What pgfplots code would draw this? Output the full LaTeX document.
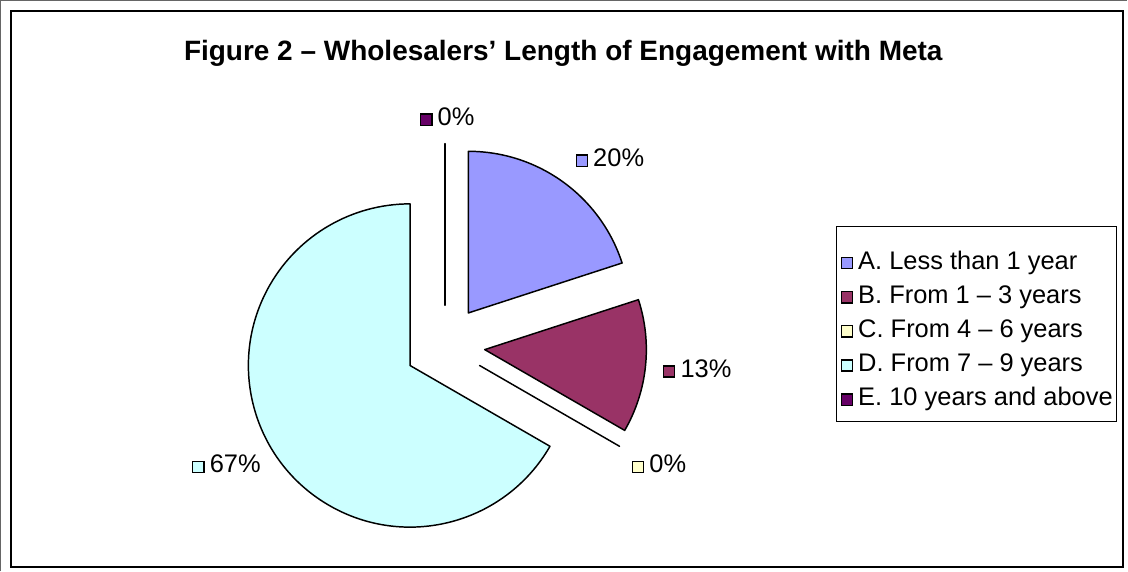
\documentclass[border=0pt]{standalone}
\usepackage{pgfplots}
\pgfplotsset{compat=1.18}
\usepackage{pgfplotstable}
\usepackage{fontspec}
\setmainfont{Liberation Sans}

\definecolor{sliceA}{HTML}{9999FF}
\definecolor{sliceB}{HTML}{993366}
\definecolor{sliceC}{HTML}{FFFFCC}
\definecolor{sliceD}{HTML}{CCFFFF}
\definecolor{sliceE}{HTML}{660066}

% shares in percent (3, 2, 0, 10, 0 of 15 wholesalers)
\pgfplotstableread{
id start share
A 0      20
B 20     13.333
C 33.333 0
D 33.333 66.667
E 100    0
}\piedata

% one exploded slice: start (%), share (%), colour
\newcommand\pieslice[3]{%
  \pgfmathsetmacro\sa{90-3.6*#1}%
  \pgfmathsetmacro\ea{90-3.6*(#1+#2)}%
  \pgfmathsetmacro\ma{(\sa+\ea)/2}%
  \pgfmathsetmacro\cx{448+40*cos(\ma)}%
  \pgfmathsetmacro\cy{225+40*sin(\ma)}%
  \edef\tmp{\noexpand\filldraw[fill=#3,draw=black,line width=1.1pt,line join=round]
    (axis cs:\cx,\cy) -- ++(\sa:120.75pt) arc[start angle=\sa,end angle=\ea,radius=120.75pt] -- cycle;}%
  \tmp}

\newcommand\sq[1]{\tikz[baseline=0pt]\filldraw[fill=#1,draw=black,line width=1pt] (0,0.3pt) rectangle (8.4pt,8.7pt);\hspace{3.8pt}}

\begin{document}
\begin{tikzpicture}
\begin{axis}[
    x=0.75pt, y=0.75pt,
    xmin=0, xmax=1128, ymin=0, ymax=571,
    hide axis, scale only axis, clip=false,
]
% frames
\draw[gray!80!black, line width=0.9pt] (axis cs:5.5,0) -- (axis cs:5.5,568.5) -- (axis cs:1128,568.5);
\draw[black, line width=1.6pt] (axis cs:16,558) rectangle (axis cs:1124,4);

% title
\node[font=\bfseries\fontsize{20.9}{24}\selectfont, anchor=base] at (axis cs:566,509)
  {Figure 2 – Wholesalers’ Length of Engagement with Meta};

% slices
\pgfplotstablegetelem{0}{start}\of\piedata \let\s\pgfplotsretval
\pgfplotstablegetelem{0}{share}\of\piedata \let\p\pgfplotsretval
\pieslice{\s}{\p}{sliceA}
\pgfplotstablegetelem{1}{start}\of\piedata \let\s\pgfplotsretval
\pgfplotstablegetelem{1}{share}\of\piedata \let\p\pgfplotsretval
\pieslice{\s}{\p}{sliceB}
\pgfplotstablegetelem{2}{start}\of\piedata \let\s\pgfplotsretval
\pgfplotstablegetelem{2}{share}\of\piedata \let\p\pgfplotsretval
\pieslice{\s}{\p}{sliceC}
\pgfplotstablegetelem{3}{start}\of\piedata \let\s\pgfplotsretval
\pgfplotstablegetelem{3}{share}\of\piedata \let\p\pgfplotsretval
\pieslice{\s}{\p}{sliceD}
\pgfplotstablegetelem{4}{start}\of\piedata \let\s\pgfplotsretval
\pgfplotstablegetelem{4}{share}\of\piedata \let\p\pgfplotsretval
\pieslice{\s}{\p}{sliceE}

% data labels
\begin{scope}[every node/.style={font=\fontsize{19}{22}\selectfont, anchor=base west, inner sep=0pt}]
\node at (axis cs:423,444) {\sq{sliceE}0\%};
\node at (axis cs:578,403) {\sq{sliceA}20\%};
\node at (axis cs:665,193) {\sq{sliceB}13\%};
\node at (axis cs:634,98) {\sq{sliceC}0\%};
\node at (axis cs:196,98) {\sq{sliceD}67\%};
\end{scope}

% legend
\draw[black, line width=0.75pt] (axis cs:838,343) rectangle (axis cs:1117,149);
\begin{scope}[every node/.style={font=\fontsize{19}{22}\selectfont, anchor=base west, inner sep=0pt}]
\node at (axis cs:842,301) {\sq{sliceA}A. Less than 1 year};
\node at (axis cs:842,267) {\sq{sliceB}B. From 1 – 3 years};
\node at (axis cs:842,233) {\sq{sliceC}C. From 4 – 6 years};
\node at (axis cs:842,199) {\sq{sliceD}D. From 7 – 9 years};
\node at (axis cs:842,165) {\sq{sliceE}E. 10 years and above};
\end{scope}
\end{axis}
\end{tikzpicture}
\end{document}
